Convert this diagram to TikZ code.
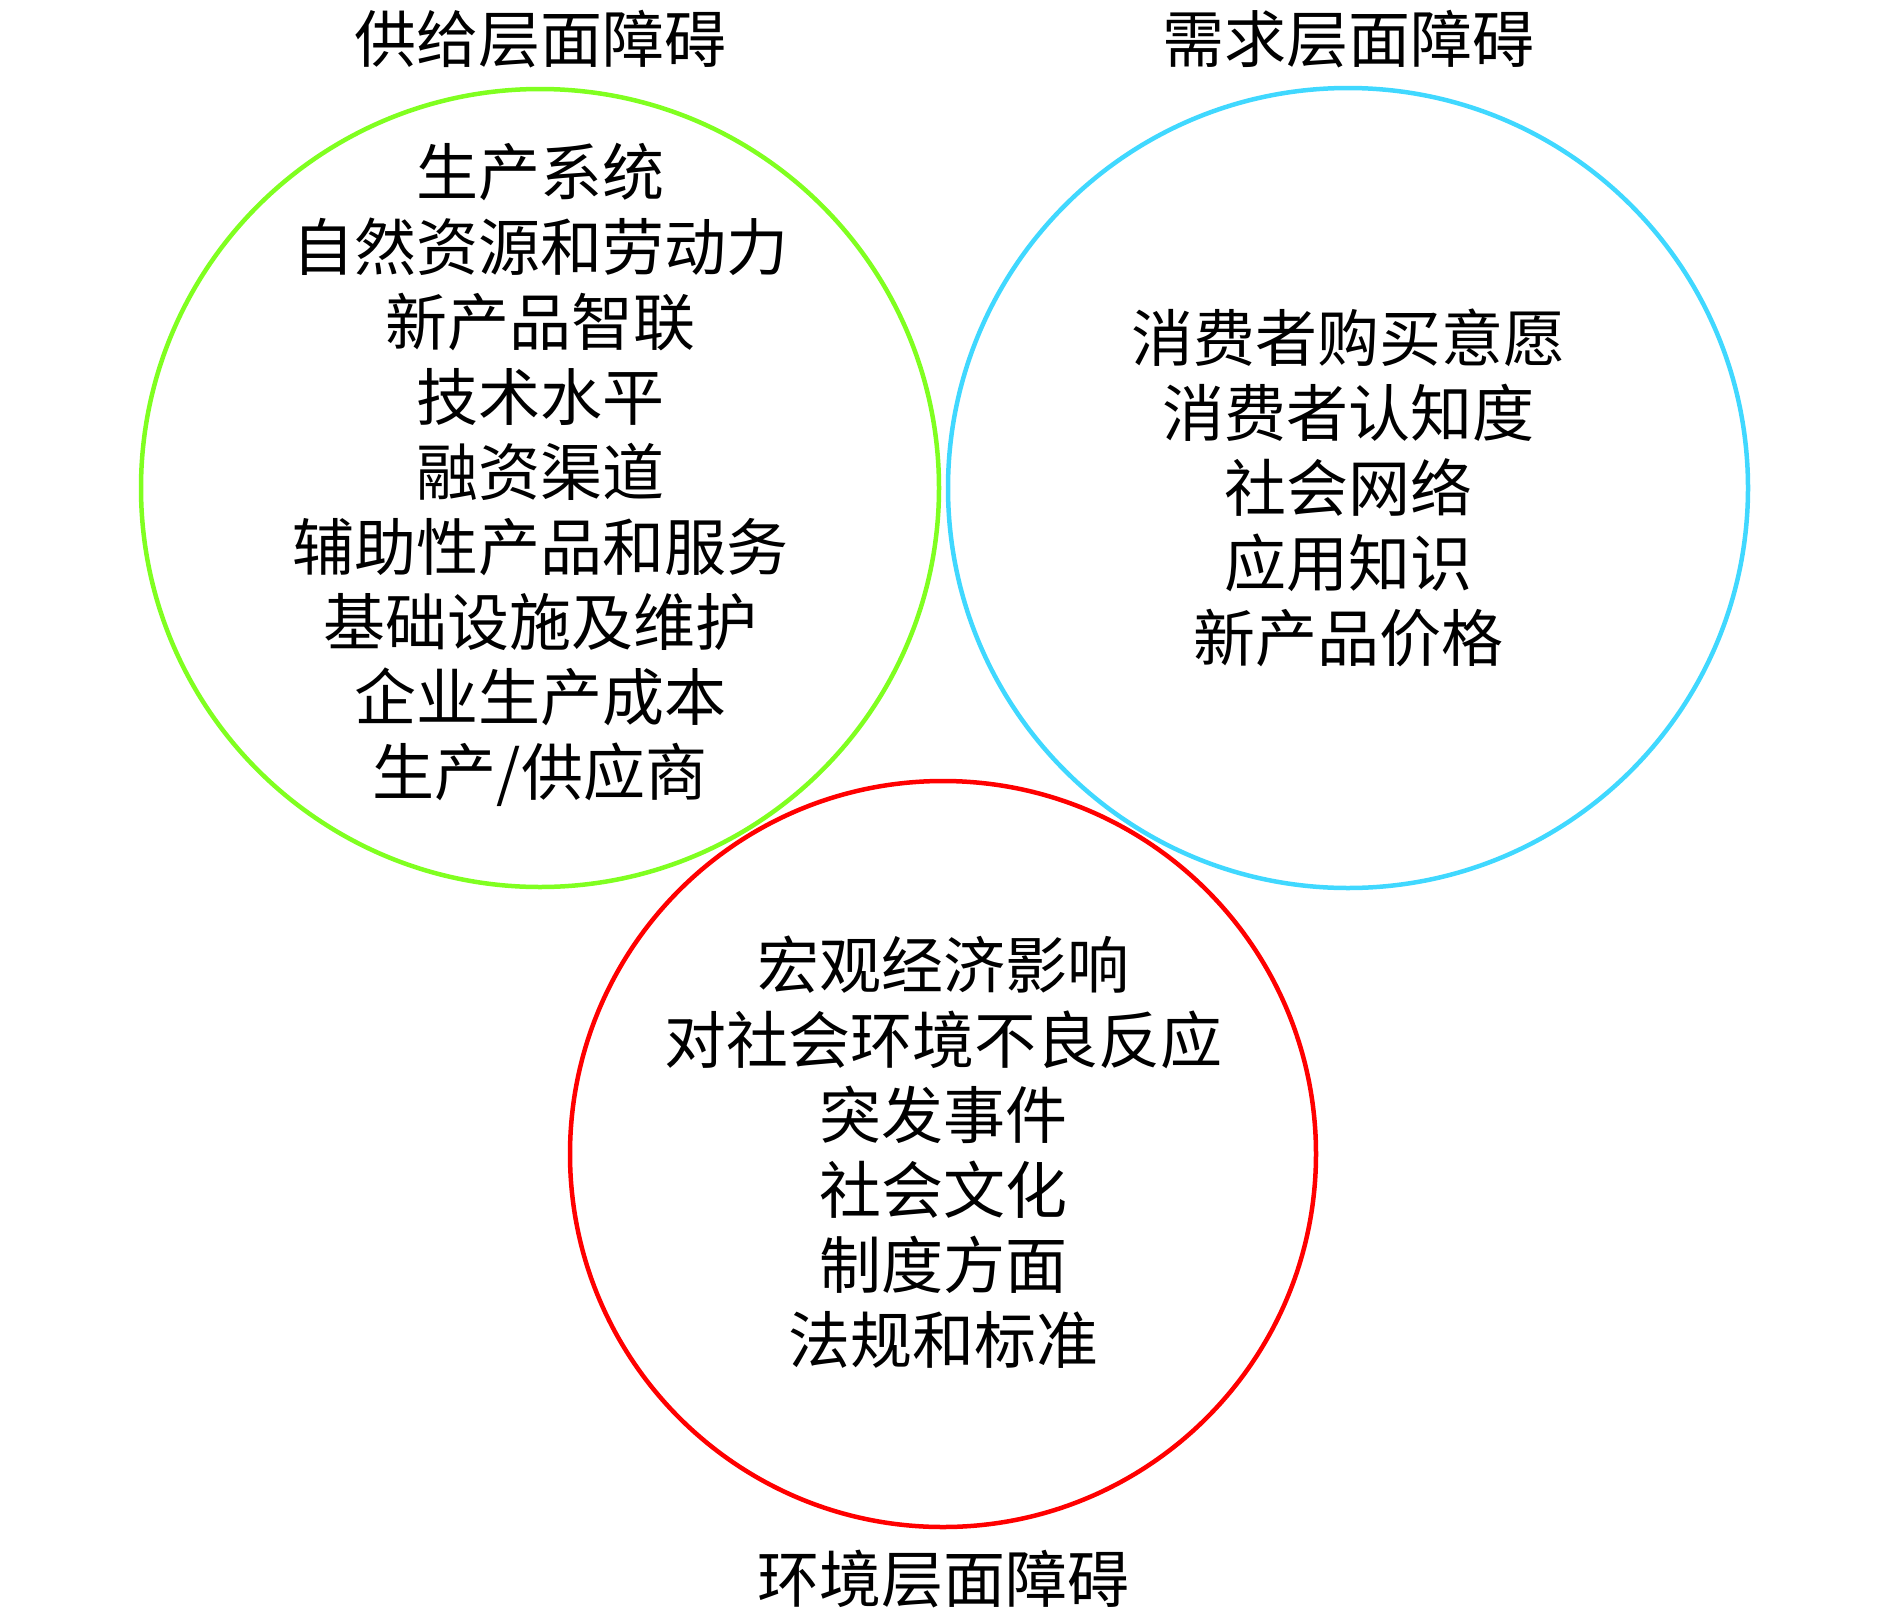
\documentclass[tikz,border=0pt]{standalone}
\usepackage{fontspec}
\newfontfamily\cjk{Noto Sans CJK SC}
\definecolor{cgreen}{RGB}{128,255,32}
\definecolor{cblue}{RGB}{64,216,255}
\definecolor{cred}{RGB}{255,0,0}
\tikzset{
  ring/.style={draw, line width=4.5pt, circle},
  lab/.style={font=\cjk\fontsize{62}{75}\selectfont, align=center, inner sep=0pt},
}
\begin{document}
\begin{tikzpicture}[x=1pt,y=-1pt]
\useasboundingbox (0,0) rectangle (1890,1617);
\draw[ring, cgreen] (540,488) circle (399);
\draw[ring, cblue] (1348,488) circle (400);
\draw[ring, cred] (943,1154) circle (373);
\node[lab] (t1) at (540,39) {供给层面障碍};
\node[lab] (t2) at (1348,39) {需求层面障碍};
\node[lab] (t3) at (943,1579) {环境层面障碍};
\node[lab] (g) at (540,475) {生产系统\\自然资源和劳动力\\新产品智联\\技术水平\\融资渠道\\辅助性产品和服务\\基础设施及维护\\企业生产成本\\生产/供应商};
\node[lab] (b) at (1348,488) {消费者购买意愿\\消费者认知度\\社会网络\\应用知识\\新产品价格};
\node[lab] (r) at (943,1152) {宏观经济影响\\对社会环境不良反应\\突发事件\\社会文化\\制度方面\\法规和标准};
\end{tikzpicture}
\end{document}
